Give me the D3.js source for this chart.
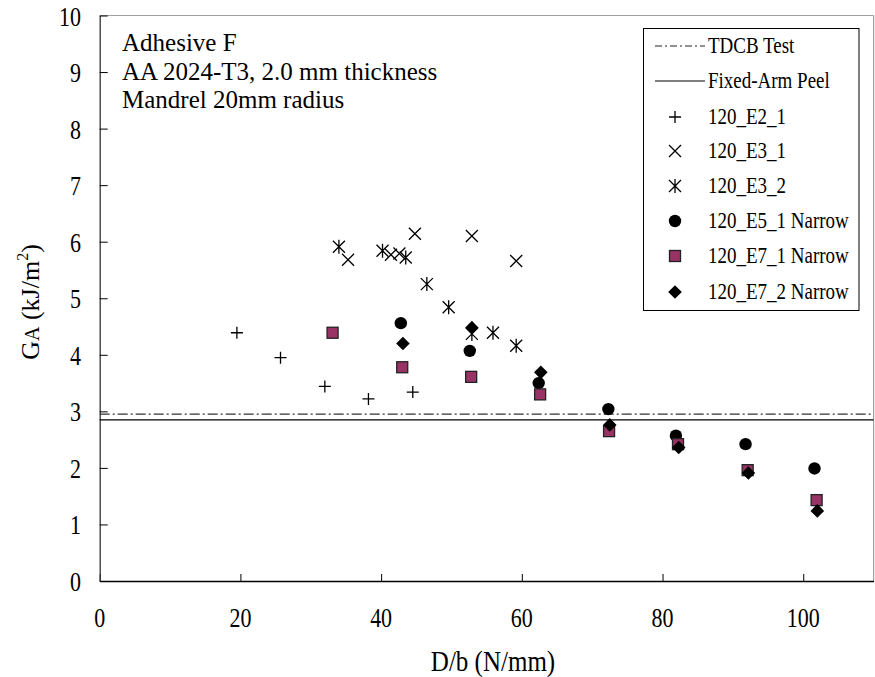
<!DOCTYPE html>
<html><head><meta charset="utf-8">
<script src="https://cdn.jsdelivr.net/npm/d3@7"></script>
<style>body{margin:0;background:#fff}svg{display:block}text{font-family:"Liberation Serif","Times New Roman",serif;fill:#000}</style>
</head><body>
<script>
const xTicks = [0, 20, 40, 60, 80, 100];
const yTicks = [0, 1, 2, 3, 4, 5, 6, 7, 8, 9, 10];
const tdcbValue = 2.95;
const fixedArmValue = 2.85;

const e2_1_x = [19.5, 25.7, 32.0, 38.2, 44.5];
const e2_1_y = [4.39, 3.95, 3.44, 3.22, 3.34];
const e3_1_x = [35.3, 41.4, 42.6, 44.8, 52.9, 59.2];
const e3_1_y = [5.68, 5.77, 5.79, 6.14, 6.10, 5.66];
const e3_2_x = [34.0, 40.2, 43.5, 46.5, 49.6, 52.9, 55.9, 59.2];
const e3_2_y = [5.91, 5.84, 5.72, 5.25, 4.84, 4.37, 4.39, 4.16];
const e5_1_x = [42.8, 52.6, 62.4, 72.3, 81.9, 91.8, 101.6];
const e5_1_y = [4.56, 4.07, 3.50, 3.04, 2.57, 2.42, 1.99];
const e7_1_x = [33.1, 43.0, 52.8, 62.6, 72.4, 82.2, 92.1, 101.9];
const e7_1_y = [4.39, 3.78, 3.61, 3.30, 2.65, 2.42, 1.96, 1.43];
const e7_2_x = [43.1, 52.9, 62.7, 72.5, 82.3, 92.2, 102.0];
const e7_2_y = [4.20, 4.48, 3.69, 2.76, 2.36, 1.91, 1.24];

const annotations = ["Adhesive F", "AA 2024-T3, 2.0 mm thickness", "Mandrel 20mm radius"];
const legendLabels = ["TDCB Test", "Fixed-Arm Peel", "120_E2_1", "120_E3_1", "120_E3_2", "120_E5_1 Narrow", "120_E7_1 Narrow", "120_E7_2 Narrow"];

const W = 875, H = 677;
const SY = 1.2; // vertical stretch of the glyphs in the reference
const svg = d3.select("body").append("svg").attr("width", W).attr("height", H);

const x = d3.scaleLinear().domain([0, 110]).range([99.7, 873.6]);
const y = d3.scaleLinear().domain([0, 10]).range([581, 15.5]);

function txt(g, s, tx, ty, size, anchor, sy) {
  return g.append("text").attr("transform", `translate(${tx},${ty}) scale(1,${sy || SY})`)
    .attr("font-size", size).attr("text-anchor", anchor || "start").text(s);
}

// frame
svg.append("line").attr("x1", x(0)).attr("x2", x(110)).attr("y1", y(10)).attr("y2", y(10)).attr("stroke", "#a0a0a0").attr("stroke-width", 1.2);
svg.append("line").attr("x1", x(110)).attr("x2", x(110)).attr("y1", y(10)).attr("y2", y(0)).attr("stroke", "#a0a0a0").attr("stroke-width", 1.2);

// axes via d3
const xAxis = d3.axisBottom(x).tickValues(xTicks).tickSizeInner(-7).tickSizeOuter(0).tickFormat("");
const gx = svg.append("g").attr("transform", `translate(0,${y(0)})`).call(xAxis);
gx.select(".domain").attr("stroke", "#000").attr("stroke-width", 1.3);
gx.selectAll(".tick line").attr("stroke", "#000").attr("stroke-width", 1);

const yAxis = d3.axisLeft(y).tickValues(yTicks).tickSizeInner(-8).tickSizeOuter(0).tickFormat("");
const gy = svg.append("g").attr("transform", `translate(${x(0)},0)`).call(yAxis);
gy.select(".domain").attr("stroke", "#333").attr("stroke-width", 1.3);
gy.selectAll(".tick line").attr("stroke", "#000").attr("stroke-width", 1);

// tick labels
xTicks.forEach(v => txt(svg, String(v), x(v), 627, 22, "middle"));
yTicks.forEach(v => txt(svg, String(v), 81, y(v) + 10, 22, "end"));

// axis titles
txt(svg, "D/b (N/mm)", 493, 671, 25, "middle");
const yt = svg.append("text").attr("transform", `translate(39,302) rotate(-90)`)
  .attr("font-size", 26).attr("text-anchor", "middle");
yt.append("tspan").text("G");
yt.append("tspan").attr("font-size", 20).text("A");
yt.append("tspan").text(" (kJ/m");
yt.append("tspan").attr("font-size", 16).attr("dy", -11).text("2");
yt.append("tspan").attr("dy", 11).text(")");

// annotations
annotations.forEach((s, i) => txt(svg, s, 122, 51 + i * 28.7, 25, "start", 1));

// reference lines
svg.append("line").attr("x1", x(0)).attr("x2", x(110)).attr("y1", y(tdcbValue)).attr("y2", y(tdcbValue))
  .attr("stroke", "#333").attr("stroke-width", 1.2).attr("stroke-dasharray", "10,3,2,3");
svg.append("line").attr("x1", x(0)).attr("x2", x(110)).attr("y1", y(fixedArmValue)).attr("y2", y(fixedArmValue))
  .attr("stroke", "#000").attr("stroke-width", 1.3);

// markers
const plum = "#993366";
function marker(g, type, cx, cy) {
  const s = 6;
  if (type === "plus") {
    g.append("path").attr("d", `M${cx - s},${cy}H${cx + s}M${cx},${cy - s}V${cy + s}`).attr("stroke", "#000").attr("stroke-width", 1.3).attr("fill", "none");
  } else if (type === "x") {
    g.append("path").attr("d", `M${cx - s},${cy - s}L${cx + s},${cy + s}M${cx - s},${cy + s}L${cx + s},${cy - s}`).attr("stroke", "#000").attr("stroke-width", 1.3).attr("fill", "none");
  } else if (type === "star") {
    g.append("path").attr("d", `M${cx - s},${cy - s}L${cx + s},${cy + s}M${cx - s},${cy + s}L${cx + s},${cy - s}M${cx},${cy - s - 1}V${cy + s + 1}`).attr("stroke", "#000").attr("stroke-width", 1.3).attr("fill", "none");
  } else if (type === "circle") {
    g.append("circle").attr("cx", cx).attr("cy", cy).attr("r", 6.2).attr("fill", "#000");
  } else if (type === "square") {
    g.append("rect").attr("x", cx - 5.5).attr("y", cy - 5.5).attr("width", 11).attr("height", 11).attr("fill", plum).attr("stroke", "#222").attr("stroke-width", 1.3);
  } else if (type === "diamond") {
    const d = 6.8;
    g.append("path").attr("d", `M${cx},${cy - d}L${cx + d},${cy}L${cx},${cy + d}L${cx - d},${cy}Z`).attr("fill", "#000");
  }
}

const series = [
  {xs: e2_1_x, ys: e2_1_y, type: "plus"},
  {xs: e3_1_x, ys: e3_1_y, type: "x"},
  {xs: e3_2_x, ys: e3_2_y, type: "star"},
  {xs: e5_1_x, ys: e5_1_y, type: "circle"},
  {xs: e7_1_x, ys: e7_1_y, type: "square"},
  {xs: e7_2_x, ys: e7_2_y, type: "diamond"}
];
const gm = svg.append("g");
series.forEach(sr => sr.xs.forEach((v, i) => marker(gm, sr.type, x(v), y(sr.ys[i]))));

// legend
const lg = svg.append("g");
lg.append("rect").attr("x", 643.5).attr("y", 28.5).attr("width", 215.5).attr("height", 282).attr("fill", "#fff").attr("stroke", "#000").attr("stroke-width", 1);
const rowY = [46, 81, 117, 151, 186, 221, 256, 292];
lg.append("line").attr("x1", 655).attr("x2", 705).attr("y1", rowY[0]).attr("y2", rowY[0]).attr("stroke", "#222").attr("stroke-width", 1.2).attr("stroke-dasharray", "7,3,2,3");
lg.append("line").attr("x1", 655).attr("x2", 705).attr("y1", rowY[1]).attr("y2", rowY[1]).attr("stroke", "#000").attr("stroke-width", 1.2);
series.forEach((sr, i) => marker(lg, sr.type, 675, rowY[i + 2]));
legendLabels.forEach((s, i) => txt(lg, s, 708, rowY[i] + 6.5, 19, "start"));
</script>
</body></html>
